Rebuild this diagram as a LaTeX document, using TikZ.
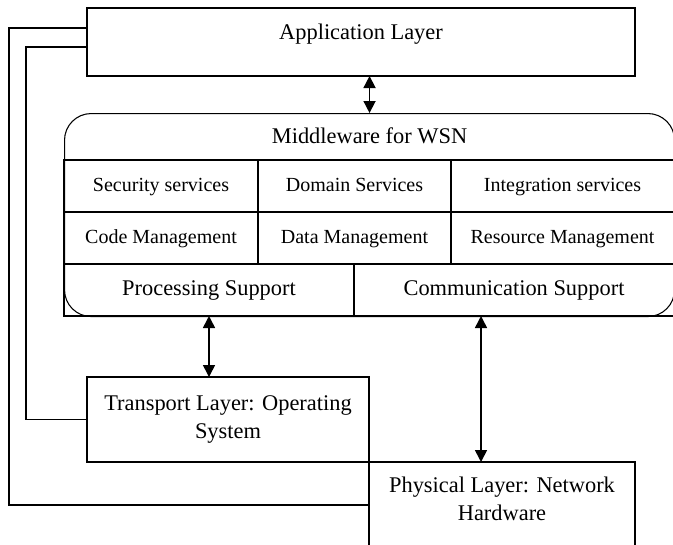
\documentclass[tikz,border=0pt]{standalone}
\usepackage{fontspec}
\setmainfont{Liberation Serif}
\usetikzlibrary{arrows.meta,positioning}

\begin{document}
\begin{tikzpicture}[x=0.75pt,y=-0.75pt,
  font=\fontsize{16.8}{21}\selectfont, >={Triangle[length=9pt,width=9pt]},
  layerbox/.style={draw,line width=0.8pt,inner sep=0pt,outer sep=0pt,align=center},
  cell/.style={draw,line width=0.8pt,minimum height=39pt,inner sep=0pt,outer sep=0pt,
    text height=11pt,text depth=3.5pt},
  small/.style={font=\fontsize{15}{18}\selectfont},
  link/.style={<->,line width=1.2pt},
  wire/.style={line width=0.8pt}]
  \useasboundingbox (0,0) rectangle (673,544);
  \node[layerbox,anchor=north west,minimum width=411pt,minimum height=51pt,
    text height=12pt,text depth=16.2pt] (app) at (87,8) {Application Layer};
  \node[draw,line width=0.8pt,rounded corners=20pt,anchor=north west,
    minimum width=457.5pt,minimum height=152.25pt] (mw) at (64,113) {};
  \node (mwtitle) at ([yshift=-17.25pt]mw.north) {Middleware for WSN};
  \node[cell,small,anchor=north west,minimum width=145.5pt] (secsvc) at (64,160) {Security services};
  \node[cell,small,right=0pt of secsvc,minimum width=144.75pt] (domsvc) {Domain Services};
  \node[cell,small,right=0pt of domsvc,minimum width=167.25pt] (intsvc) {Integration services};
  \node[cell,small,below=0pt of secsvc,minimum width=145.5pt] (codemgmt) {Code Management};
  \node[cell,small,right=0pt of codemgmt,minimum width=144.75pt] (datamgmt) {Data Management};
  \node[cell,small,right=0pt of datamgmt,minimum width=167.25pt] (resmgmt) {Resource Management};
  \node[cell,anchor=north west,minimum width=217.5pt] (procsup) at (codemgmt.south west) {Processing Support};
  \node[cell,right=0pt of procsup,minimum width=240pt] (commsup) {Communication Support};
  \node[layerbox,anchor=north west,minimum width=211.5pt,minimum height=63.75pt] (transport) at (87,377)
    {Transport Layer: Operating\\System};
  \node[layerbox,anchor=north west,minimum width=199.5pt,minimum height=64.5pt,
    text height=34pt,text depth=10.5pt] (phys) at (369,462) {Physical Layer: Network\\Hardware};
  \draw[link] (app.south -| mw.north) -- (mw.north);
  \draw[link] (procsup.south) -- (procsup.south |- transport.north);
  \draw[link] ([xshift=-24.75pt]commsup.south) -- ([xshift=-24.75pt]commsup.south |- phys.north);
  \draw[wire] ([yshift=-3.75pt]app.west) -- ++(-61,0) |- (transport.west);
  \draw[wire] ([yshift=10.5pt]app.west) -- ++(-78,0) |- (phys.west);
\end{tikzpicture}
\end{document}
